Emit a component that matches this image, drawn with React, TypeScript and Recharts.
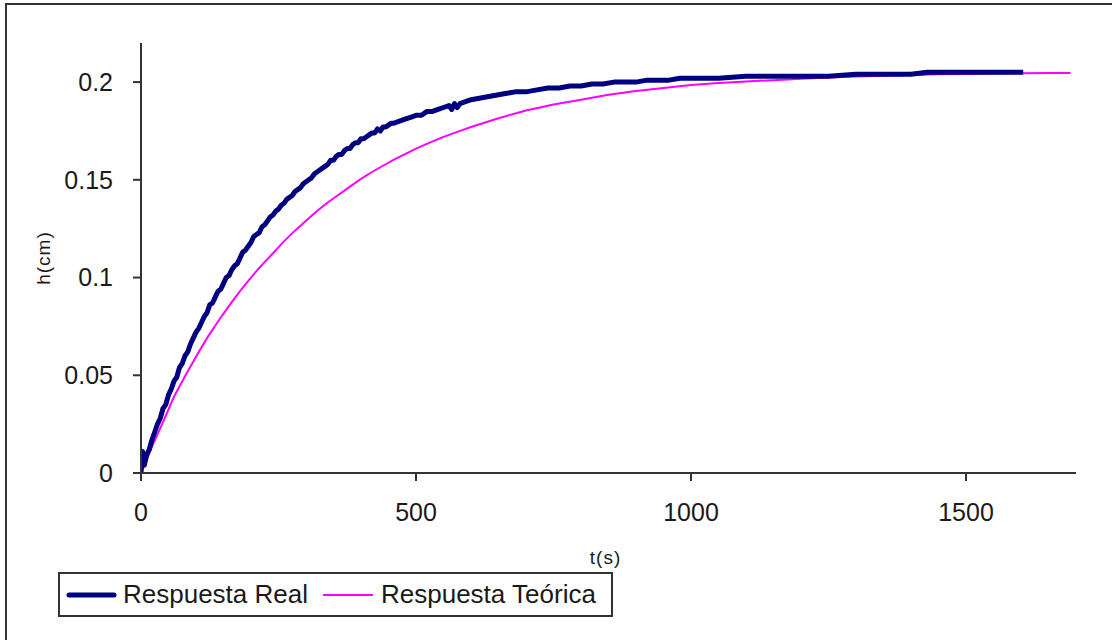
import React from 'react';
import { LineChart, Line, XAxis, YAxis, Legend } from 'recharts';

// Measured tank level (Respuesta Real): time in s, level h in cm
const realT = [
  0, 3, 6, 10, 15, 20, 25, 30, 35, 40, 45, 50, 55, 60, 65, 70, 75, 80, 85, 90,
  95, 100, 105, 110, 115, 120, 125, 130, 135, 140, 145, 150, 155, 160, 165, 170, 175, 180, 185, 190,
  195, 200, 205, 210, 215, 220, 225, 230, 235, 240, 245, 250, 255, 260, 265, 270, 275, 280, 285, 290,
  295, 300, 305, 310, 315, 320, 325, 330, 335, 340, 345, 350, 355, 360, 365, 370, 375, 380, 385, 390,
  395, 400, 405, 410, 415, 420, 425, 430, 435, 440, 445, 450, 455, 460, 470, 480, 490, 500, 510, 520,
  530, 540, 550, 560, 565, 570, 575, 580, 590, 600, 620, 640, 660, 680, 700, 720, 740, 760, 780, 800,
  820, 840, 860, 880, 900, 920, 940, 960, 980, 1000, 1050, 1100, 1150, 1200, 1250, 1300, 1350, 1400, 1430, 1500,
  1550, 1604,
];
const realH = [
  0.000, 0.011, 0.004, 0.009, 0.012, 0.017, 0.021, 0.025, 0.028, 0.033, 0.035, 0.040, 0.043, 0.047, 0.049, 0.054, 0.056, 0.060, 0.062, 0.066,
  0.069, 0.072, 0.074, 0.077, 0.080, 0.082, 0.086, 0.087, 0.090, 0.093, 0.094, 0.097, 0.100, 0.101, 0.104, 0.106, 0.107, 0.110, 0.113, 0.114,
  0.116, 0.118, 0.121, 0.122, 0.123, 0.126, 0.127, 0.129, 0.131, 0.132, 0.134, 0.135, 0.137, 0.138, 0.140, 0.141, 0.142, 0.144, 0.145, 0.146,
  0.148, 0.149, 0.150, 0.151, 0.153, 0.154, 0.155, 0.156, 0.157, 0.158, 0.160, 0.160, 0.162, 0.163, 0.163, 0.165, 0.166, 0.166, 0.168, 0.169,
  0.169, 0.171, 0.171, 0.172, 0.173, 0.174, 0.174, 0.176, 0.175, 0.177, 0.177, 0.178, 0.179, 0.179, 0.180, 0.181, 0.182, 0.183, 0.183, 0.185,
  0.185, 0.186, 0.187, 0.188, 0.186, 0.189, 0.187, 0.189, 0.190, 0.191, 0.192, 0.193, 0.194, 0.195, 0.195, 0.196, 0.197, 0.197, 0.198, 0.198,
  0.199, 0.199, 0.200, 0.200, 0.200, 0.201, 0.201, 0.201, 0.202, 0.202, 0.202, 0.203, 0.203, 0.203, 0.203, 0.204, 0.204, 0.204, 0.205, 0.205,
  0.205, 0.205,
];

// First-order model (Respuesta Teórica)
const theoT = [
  0, 20, 40, 60, 80, 100, 120, 140, 160, 180, 200, 220, 240, 260, 280, 300, 320, 340, 360, 380,
  400, 420, 440, 460, 480, 500, 525, 550, 575, 600, 650, 700, 750, 800, 850, 900, 950, 1000, 1050, 1100,
  1150, 1200, 1250, 1300, 1350, 1400, 1450, 1500, 1550, 1600, 1650, 1690,
];
const theoH = [
  0, 0.0135, 0.026, 0.039, 0.0495, 0.0595, 0.069, 0.0775, 0.0855, 0.093, 0.100, 0.1065, 0.1125, 0.1185, 0.124, 0.129, 0.134, 0.1385, 0.1425, 0.1465,
  0.1505, 0.154, 0.1572, 0.1603, 0.1632, 0.166, 0.169, 0.172, 0.1745, 0.177, 0.1815, 0.1855, 0.1885, 0.191, 0.1935, 0.1955, 0.197, 0.1985, 0.1995, 0.2003,
  0.201, 0.2017, 0.2023, 0.2028, 0.2032, 0.2036, 0.204, 0.2042, 0.2044, 0.2045, 0.2046, 0.2047,
];

const xTicks = [0, 500, 1000, 1500];
const yTicks = [0, 0.05, 0.1, 0.15, 0.2];

const seriesNames = ['Respuesta Real', 'Respuesta Teórica'];
const seriesColors = ['#000080', '#FF00FF'];

const realData = realT.map((t, i) => ({ t, h: realH[i] }));
const theoData = theoT.map((t, i) => ({ t, h: theoH[i] }));

const FONT = '"Liberation Sans", Arial, sans-serif';
const AXIS = '#333333';
const INK = '#1a1a1a';

const renderLegend = (props: any) => {
  const payload = props.payload || [];
  return (
    <div
      style={{
        boxSizing: 'border-box',
        width: 555,
        height: 45,
        border: `2px solid ${AXIS}`,
        background: '#fff',
        display: 'flex',
        alignItems: 'center',
        fontFamily: FONT,
        fontSize: 26,
        color: INK,
        paddingLeft: 6,
        whiteSpace: 'nowrap',
      }}
    >
      {payload.map((entry: any, i: number) => (
        <span key={entry.value} style={{ display: 'flex', alignItems: 'center', marginLeft: i === 0 ? 0 : 15 }}>
          <svg width={51} height={8} style={{ display: 'block' }}>
            <line
              x1={i === 0 ? 3 : 0}
              y1={4}
              x2={i === 0 ? 48 : 50}
              y2={4}
              stroke={entry.color}
              strokeWidth={i === 0 ? 5 : 2}
              strokeLinecap={i === 0 ? 'round' : 'butt'}
            />
          </svg>
          <span style={{ marginLeft: i === 0 ? 6 : 7 }}>{entry.value}</span>
        </span>
      ))}
    </div>
  );
};

const YTitle = (props: any) => {
  const vb = props.viewBox || { x: 0, y: 0, width: 0, height: 0 };
  const x = vb.x + 2;
  const y = vb.y + vb.height / 2;
  return (
    <text
      x={x}
      y={y}
      transform={`rotate(-90, ${x}, ${y})`}
      textAnchor="middle"
      dominantBaseline="central"
      fontFamily={FONT}
      fontSize={19}
      letterSpacing={1}
      fill={INK}
    >
      h(cm)
    </text>
  );
};

const XTitle = (props: any) => {
  const vb = props.viewBox || { x: 0, y: 0, width: 0, height: 0 };
  return (
    <text
      x={vb.x + vb.width / 2 - 3}
      y={vb.y + 84}
      textAnchor="middle"
      dominantBaseline="central"
      fontFamily={FONT}
      fontSize={19}
      letterSpacing={1}
      fill={INK}
    >
      t(s)
    </text>
  );
};

export default function App() {
  return (
    <div
      style={{
        position: 'absolute',
        left: 0,
        top: 0,
        width: 1112,
        height: 640,
        overflow: 'hidden',
        background: '#fff',
      }}
    >
      <div
        style={{
          position: 'absolute',
          left: 5,
          top: 3,
          right: 0,
          bottom: 0,
          borderTop: `2px solid ${AXIS}`,
          borderLeft: `2px solid ${AXIS}`,
        }}
      />
      <div style={{ position: 'absolute', left: 0, top: 0 }}>
        <LineChart width={1112} height={640} margin={{ top: 43, right: 36, bottom: 107, left: 41 }}>
          <XAxis
            type="number"
            dataKey="t"
            domain={[0, 1700]}
            ticks={xTicks}
            allowDataOverflow
            height={60}
            stroke={AXIS}
            strokeWidth={2}
            tickSize={8}
            tickMargin={22}
            tick={{ fill: INK, fontSize: 25, fontFamily: FONT }}
            tickLine={{ stroke: AXIS, strokeWidth: 2 }}
            label={{ content: XTitle }}
          />
          <YAxis
            type="number"
            dataKey="h"
            domain={[0, 0.22]}
            ticks={yTicks}
            allowDataOverflow
            width={100}
            stroke={AXIS}
            strokeWidth={2}
            tickSize={8}
            tickMargin={20}
            tickFormatter={(v: number) => String(v)}
            tick={{ fill: INK, fontSize: 25, fontFamily: FONT }}
            tickLine={{ stroke: AXIS, strokeWidth: 2 }}
            label={{ content: YTitle }}
          />
          <Legend
            layout="horizontal"
            align="center"
            verticalAlign="middle"
            content={renderLegend}
            wrapperStyle={{ left: 58, top: 572, width: 555, height: 45 }}
          />
          <Line
            data={theoData}
            dataKey="h"
            name={seriesNames[1]}
            type="linear"
            stroke={seriesColors[1]}
            strokeWidth={2}
            dot={false}
            activeDot={false}
            isAnimationActive={false}
          />
          <Line
            data={realData}
            dataKey="h"
            name={seriesNames[0]}
            type="linear"
            stroke={seriesColors[0]}
            strokeWidth={5}
            strokeLinejoin="round"
            dot={false}
            activeDot={false}
            isAnimationActive={false}
          />
        </LineChart>
      </div>
    </div>
  );
}
